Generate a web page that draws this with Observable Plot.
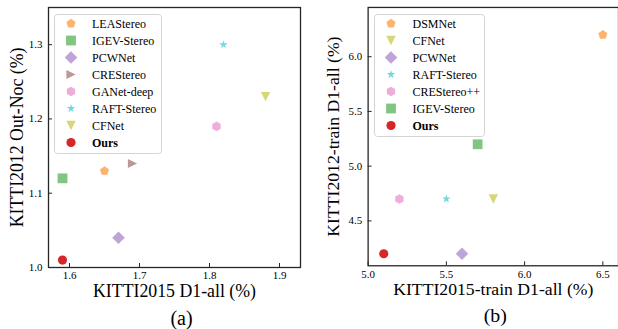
<!DOCTYPE html>
<html><head><meta charset="utf-8">
<script src="https://cdn.jsdelivr.net/npm/d3@7"></script>
<script src="https://cdn.jsdelivr.net/npm/@observablehq/plot@0.6"></script>
<style>
html,body{margin:0;padding:0;background:#fff;}
#fig{position:relative;width:618px;height:329px;overflow:hidden;font-family:"Liberation Serif",serif;}
#fig > div, #fig > svg{position:absolute;top:0;}
</style></head><body><div id="fig"></div>
<script>
// ---- data: panel (a) ----
const methodsA = ["LEAStereo","IGEV-Stereo","PCWNet","CREStereo","GANet-deep","RAFT-Stereo","CFNet","Ours"];
const kitti2015A = [1.65, 1.59, 1.67, 1.69, 1.81, 1.82, 1.88, 1.59];
const kitti2012A = [1.13, 1.12, 1.04, 1.14, 1.19, 1.30, 1.23, 1.01];
const xTicksA = [1.6, 1.7, 1.8, 1.9];
const yTicksA = [1.0, 1.1, 1.2, 1.3];
// ---- data: panel (b) ----
const methodsB = ["DSMNet","CFNet","PCWNet","RAFT-Stereo","CREStereo++","IGEV-Stereo","Ours"];
const kitti2015B = [6.5, 5.8, 5.6, 5.5, 5.2, 5.7, 5.1];
const kitti2012B = [6.2, 4.7, 4.2, 4.7, 4.7, 5.2, 4.2];
const xTicksB = [5.0, 5.5, 6.0, 6.5];
const yTicksB = [4.5, 5.0, 5.5, 6.0];

// ---- styles ----
const shapeFns = {
  pentagon: R => d3.range(5).map(k => [R*Math.cos((-90+72*k)*Math.PI/180), R*Math.sin((-90+72*k)*Math.PI/180)]),
  hexagon: R => d3.range(6).map(k => [R*Math.cos((-90+60*k)*Math.PI/180), R*Math.sin((-90+60*k)*Math.PI/180)]),
  star: R => d3.range(10).map(k => { const r = k%2 ? R*0.382 : R; const a=(-90+36*k)*Math.PI/180; return [r*Math.cos(a), r*Math.sin(a)]; }),
  square: R => [[-R,-R],[R,-R],[R,R],[-R,R]],
  diamond: R => [[0,-R],[R,0],[0,R],[-R,0]],
  triRight: R => [[R,0],[-R,R],[-R,-R]],
  triDown: R => [[0,R],[-R,-R],[R,-R]]
};
function makeSymbol(shape, R) {
  return {draw(ctx) {
    if (shape === "circle") { ctx.moveTo(R,0); ctx.arc(0,0,R,0,2*Math.PI); ctx.closePath(); return; }
    const pts = shapeFns[shape](R);
    ctx.moveTo(pts[0][0], pts[0][1]);
    for (let i=1;i<pts.length;i++) ctx.lineTo(pts[i][0], pts[i][1]);
    ctx.closePath();
  }};
}
const styleOf = {
  "LEAStereo":   {shape:"pentagon", R:4.8, color:"#ffb26e"},
  "DSMNet":      {shape:"pentagon", R:4.8, color:"#ffb26e"},
  "IGEV-Stereo": {shape:"square",   R:4.9, color:"#80c680"},
  "PCWNet":      {shape:"diamond",  R:6.3, color:"#bfa4d7"},
  "CREStereo":   {shape:"triRight", R:4.6, color:"#ba9a93"},
  "GANet-deep":  {shape:"hexagon",  R:4.8, color:"#eeadda"},
  "CREStereo++": {shape:"hexagon",  R:4.8, color:"#eeadda"},
  "RAFT-Stereo": {shape:"star",     R:4.5, color:"#74d8e2"},
  "CFNet":       {shape:"triDown",  R:4.7, color:"#d7d77a"},
  "Ours":        {shape:"circle",   R:4.6, color:"#d62728"}
};
const symOf = m => makeSymbol(styleOf[m].shape, styleOf[m].R);
const FONT = '"Liberation Serif", "Times New Roman", serif';
const INK = "#262626";

function panel(o) {
  const data = o.methods.map((m,i) => ({method:m, x:o.xs[i], y:o.ys[i]}));
  const H = 329, mT = 7, mB = 62;
  const fw = o.width - o.marginLeft - o.marginRight, fh = H - mT - mB;
  return Plot.plot({
    width: o.width, height: H, marginLeft: o.marginLeft, marginRight: o.marginRight, marginTop: mT, marginBottom: mB,
    style: {fontFamily: FONT, fontSize: "11px", color: "#000", background: "transparent", overflow: "visible"},
    x: {domain: o.xDomain}, y: {domain: o.yDomain},
    symbol: {domain: o.methods, range: o.methods.map(symOf)},
    color: {domain: o.methods, range: o.methods.map(m => styleOf[m].color)},
    marks: [
      Plot.tickX(o.xTicks, {x: d => d, insetTop: fh - 4, stroke: INK, strokeWidth: 1}),
      Plot.tickY(o.yTicks, {y: d => d, insetRight: fw - 4, stroke: INK, strokeWidth: 1}),
      Plot.axisX({ticks: o.xTicks, tickSize: 0, tickPadding: 4, label: null, tickFormat: d => d.toFixed(1)}),
      Plot.axisY({ticks: o.yTicks, tickSize: 0, tickPadding: 6, label: null, tickFormat: d => d.toFixed(1)}),
      Plot.dot(data, {x: "x", y: "y", symbol: "method", fill: "method", stroke: "none"}),
      Plot.frame({stroke: INK, strokeWidth: 1.3}),
      Plot.text([o.xLabel], {text: d => d, frameAnchor: "bottom", textAnchor: "middle", lineAnchor: "bottom", dy: 29.7, fontSize: 17.8, fill: "#000"}),
      Plot.text([o.yLabel], {text: d => d, frameAnchor: "left", textAnchor: "middle", rotate: -90, lineAnchor: "bottom", dx: o.yLabelDx, fontSize: 17.8, fill: "#000"}),
      Plot.text([o.caption], {text: d => d, frameAnchor: "bottom", textAnchor: "middle", lineAnchor: "bottom", dy: 57, dx: o.captionDx, fontSize: 20, fill: "#000"})
    ]
  });
}

function legend(methods, left, top, w, h, markerX, labelX) {
  const svg = d3.create("svg").attr("width", w + 2).attr("height", h + 2)
    .style("left", left + "px").style("top", top + "px");
  svg.append("rect").attr("x", 0.5).attr("y", 0.5).attr("width", w).attr("height", h)
    .attr("rx", 3).attr("fill", "rgba(255,255,255,0.85)").attr("stroke", "#d4d4d4").attr("stroke-width", 1);
  methods.forEach((m, i) => {
    const cy = 9.5 + 17 * i;
    const p = d3.path(); symOf(m).draw(p);
    svg.append("path").attr("d", p.toString()).attr("transform", `translate(${markerX},${cy})`).attr("fill", styleOf[m].color);
    svg.append("text").attr("x", labelX).attr("y", cy + 4).text(m)
      .attr("font-family", FONT).attr("font-size", 12).attr("fill", "#000")
      .attr("font-weight", m === "Ours" ? "bold" : "normal");
  });
  return svg.node();
}

const fig = document.getElementById("fig");
const pa = panel({methods: methodsA, xs: kitti2015A, ys: kitti2012A, xDomain: [1.57, 1.93], yDomain: [1.0, 1.35],
  xTicks: xTicksA, yTicks: yTicksA, xLabel: "KITTI2015 D1-all (%)", yLabel: "KITTI2012 Out-Noc (%)", caption: "(a)",
  width: 310, marginLeft: 48, marginRight: 10, yLabelDx: -26, captionDx: 7});
const wa = document.createElement("div"); wa.style.left = "0px"; wa.appendChild(pa); fig.appendChild(wa);
const pb = panel({methods: methodsB, xs: kitti2015B, ys: kitti2012B, xDomain: [5.0, 6.6], yDomain: [4.09, 6.45],
  xTicks: xTicksB, yTicks: yTicksB, xLabel: "KITTI2015-train D1-all (%)", yLabel: "KITTI2012-train D1-all (%)", caption: "(b)",
  width: 310, marginLeft: 58, marginRight: 0, yLabelDx: -29, captionDx: 2});
const wb = document.createElement("div"); wb.style.left = "310px"; wb.appendChild(pb); fig.appendChild(wb);
fig.appendChild(legend(methodsA, 54, 14, 107, 139, 17, 38));
fig.appendChild(legend(methodsB, 374, 14, 110, 122, 17, 38.5));
</script></body></html>
